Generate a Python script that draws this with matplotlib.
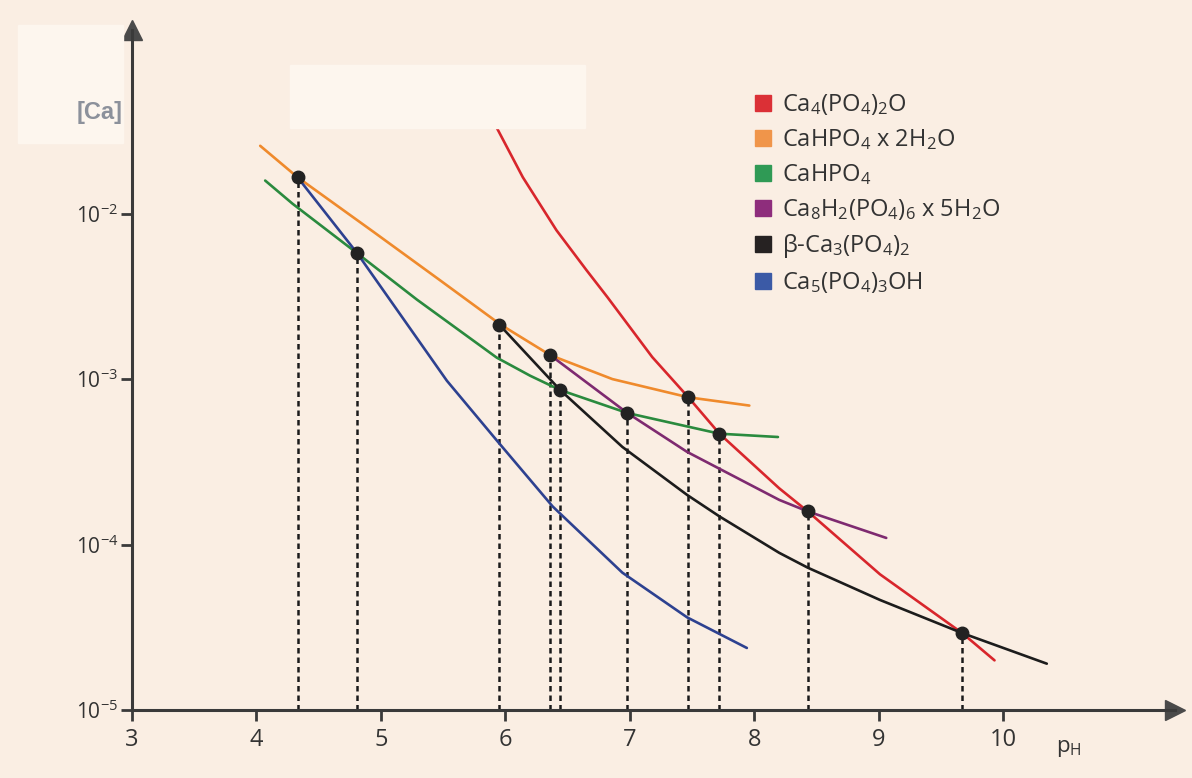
import numpy as np
import matplotlib
matplotlib.use("Agg")
import matplotlib.pyplot as plt
from matplotlib.lines import Line2D
from matplotlib.patches import Rectangle

plt.rcParams['font.family'] = ['Open Sans', 'DejaVu Sans']
plt.rcParams['mathtext.fontset'] = 'custom'
plt.rcParams['mathtext.rm'] = 'Open Sans'
plt.rcParams['mathtext.it'] = 'Open Sans'
plt.rcParams['mathtext.default'] = 'regular'

# data (pH, log10 [Ca])
red_ph = [5.93, 6.14, 6.41, 6.65, 6.82, 7.18, 7.47, 7.72, 8.20, 8.43, 9.01, 9.67, 9.93]
red_log = [-1.48, -1.78, -2.10, -2.34, -2.505, -2.867, -3.11, -3.33, -3.66, -3.80,
           -4.18, -4.535, -4.70]

orange_ph = [4.03, 4.33, 4.94, 5.47, 5.96, 6.36, 6.86, 7.47, 7.96]
orange_log = [-1.59, -1.78, -2.11, -2.40, -2.67, -2.855, -3.00, -3.11, -3.16]

green_ph = [4.07, 4.29, 4.81, 5.29, 5.93, 6.20, 6.44, 6.98, 7.72, 8.19]
green_log = [-1.80, -1.94, -2.24, -2.52, -2.87, -2.98, -3.066, -3.205, -3.33, -3.35]

purple_ph = [6.36, 6.98, 7.46, 8.20, 8.43, 9.06]
purple_log = [-2.855, -3.205, -3.44, -3.73, -3.80, -3.96]

black_ph = [5.95, 6.44, 6.94, 7.46, 7.72, 8.20, 8.43, 9.01, 9.67, 10.35]
black_log = [-2.67, -3.066, -3.41, -3.70, -3.83, -4.05, -4.14, -4.335, -4.535, -4.72]

blue_ph = [4.33, 4.81, 5.53, 5.93, 6.38, 6.94, 7.46, 7.94]
blue_log = [-1.78, -2.24, -3.01, -3.37, -3.77, -4.17, -4.44, -4.625]

# intersection points (black dots with dashed drop lines)
dot_ph = [4.33, 4.81, 5.95, 6.36, 6.44, 6.98, 7.47, 7.72, 8.43, 9.67]
dot_log = [-1.78, -2.24, -2.67, -2.855, -3.066, -3.205, -3.11, -3.33, -3.80, -4.535]

labels = [r'Ca$_4$(PO$_4$)$_2$O', r'CaHPO$_4$ x 2H$_2$O', r'CaHPO$_4$',
          r'Ca$_8$H$_2$(PO$_4$)$_6$ x 5H$_2$O', r'β-Ca$_3$(PO$_4$)$_2$',
          r'Ca$_5$(PO$_4$)$_3$OH']
line_colors = ['#d8262c', '#ef8a2c', '#2a8a3e', '#7e2a70', '#1c1c1c', '#2d4190']
legend_colors = ['#db3036', '#f0954a', '#2f9a55', '#8e2d7c', '#262222', '#3b5aa6']

xticks = [3, 4, 5, 6, 7, 8, 9, 10]
yticks = [1e-5, 1e-4, 1e-3, 1e-2]

bg = '#faeee3'
fig = plt.figure(figsize=(11.92, 7.78), dpi=100, facecolor=bg)

# lighter pasted patches from the scan
fig.patches.append(Rectangle((18/1192, 1 - 143/778), 105/1192, 118/778,
                             transform=fig.transFigure, color='#fdf6ee', zorder=0))
fig.patches.append(Rectangle((290/1192, 1 - 128/778), 295/1192, 63/778,
                             transform=fig.transFigure, color='#fdf6ee', zorder=0))

ax = fig.add_axes([132/1192, 68/778, 1043/1192, 680/778])
ax.set_facecolor('none')
ax.set_yscale('log')
ax.set_xlim(3, 11.38)
ax.set_ylim(1e-5, 10**-0.89)

series = [(red_ph, red_log), (orange_ph, orange_log), (green_ph, green_log),
          (purple_ph, purple_log), (black_ph, black_log), (blue_ph, blue_log)]
for (px, py), c in zip(series, line_colors):
    ax.plot(px, 10**np.array(py), color=c, lw=1.9, solid_capstyle='round',
            solid_joinstyle='round', zorder=3)

dot_ca = 10**np.array(dot_log)
ax.vlines(dot_ph, 1e-5, dot_ca, colors='#1a1a1a', lw=1.8,
          linestyles=(0, (2.2, 1.6)), zorder=2)
ax.plot(dot_ph, dot_ca, 'o', color='#222222', ms=9, zorder=5)

for s in ['top', 'right']:
    ax.spines[s].set_visible(False)
for s in ['left', 'bottom']:
    ax.spines[s].set_color('#3a3a3a')
    ax.spines[s].set_linewidth(2.2)
ax.plot(1, 0, '>', color='#4a4a4a', ms=15, transform=ax.transAxes, clip_on=False)
ax.plot(0, 1, '^', color='#4a4a4a', ms=15, transform=ax.transAxes, clip_on=False)

ax.set_xticks(xticks)
ax.set_xticklabels([str(t) for t in xticks])
ax.set_yticks(yticks)
ax.set_yticklabels([r'10$^{-5}$', r'10$^{-4}$', r'10$^{-3}$', r'10$^{-2}$'])
ax.yaxis.set_minor_locator(matplotlib.ticker.NullLocator())
ax.tick_params(axis='both', colors='#3a3a3a', width=2, length=8, labelcolor='#333333')
ax.tick_params(axis='x', labelsize=17, pad=5)
ax.tick_params(axis='y', labelsize=15, pad=2)

ax.text(10.42, 10**-5.23, r'p$_H$', fontsize=16, color='#333333', ha='left', va='center')
fig.text(100/1192, 1 - 113/778, '[Ca]', fontsize=17, fontweight='bold',
         color='#8c919b', family='Liberation Sans', ha='center', va='center')

handles = [Line2D([], [], ls='none', marker='s', ms=12, color=c) for c in legend_colors]
leg = ax.legend(handles, labels, loc='upper left', bbox_to_anchor=(613/1043, 1 - 53/680),
                frameon=False, fontsize=17, handlelength=0.7, handletextpad=0.45,
                labelspacing=0.42, borderaxespad=0)
for t in leg.get_texts():
    t.set_color('#333333')

fig.savefig('out.png', dpi=100, facecolor=bg)
